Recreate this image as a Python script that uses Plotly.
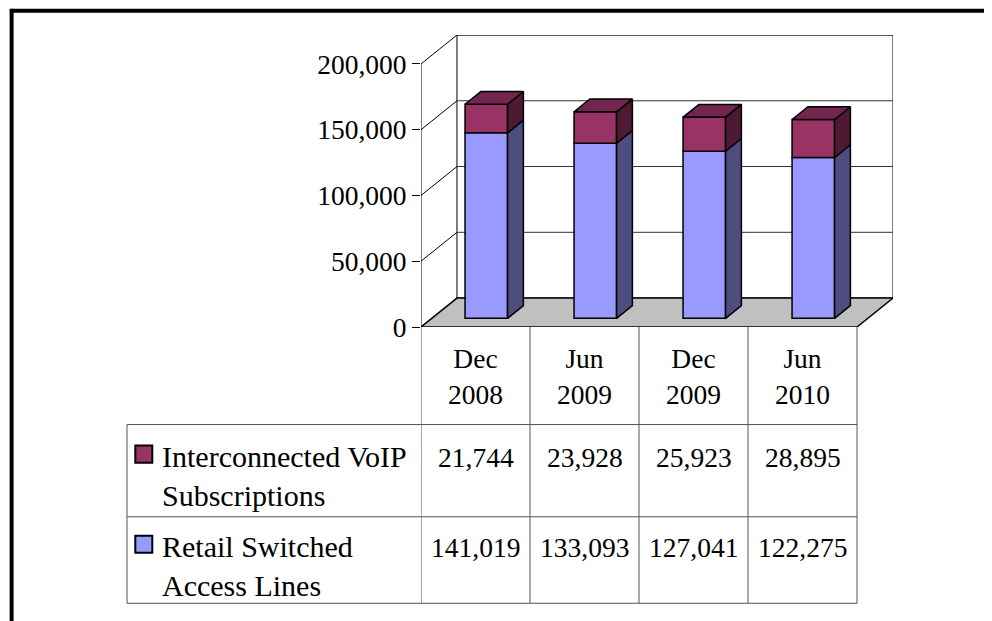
import plotly.graph_objects as go

# data
categories = ["Dec 2008", "Jun 2009", "Dec 2009", "Jun 2010"]
series_names = ["Interconnected VoIP<br>Subscriptions", "Retail Switched<br>Access Lines"]
voip = [21744, 23928, 25923, 28895]
retail = [141019, 133093, 127041, 122275]
y_ticks = [0, 50000, 100000, 150000, 200000]

FONT = "Liberation Serif"
FS = 27.5
FS_LABEL = 30

# pseudo-3d geometry (data units)
DX = 0.33      # depth offset along x (category units)
DY = 22000     # depth offset along y (value units)
F_FRONT = 0.3  # bar front face depth fraction
F_DEPTH = 0.44 # bar depth fraction
BAR_W = 0.39
Y_MAX = 200000

# page offset of the plot div (body margin)
OFF = 8

# plot area in pixels (page coordinates)
W, H = 992, 621
PL, PR, PB = 420.7, 892.7, 326.7
PT = PB - (Y_MAX + DY) * 262.4 / Y_MAX


def px_x(x):
    return (x - PL) / (PR - PL)


def px_y(y):
    return (PB - y) / (PB - PT)


def poly(pts):
    return "M " + " L ".join(f"{x},{y}" for x, y in pts) + " Z"


x0, x1 = -0.5, len(categories) - 0.5
shapes = []

# back wall, floor, side wall edges
shapes.append(dict(type="path", xref="x", yref="y", layer="below",
                   path=poly([(x0 + DX, DY), (x1 + DX, DY), (x1 + DX, Y_MAX + DY), (x0 + DX, Y_MAX + DY)]),
                   fillcolor="white", line=dict(color="black", width=1)))
shapes.append(dict(type="path", xref="x", yref="y", layer="below",
                   path=poly([(x0, 0), (x0 + DX, DY), (x1 + DX, DY), (x1, 0)]),
                   fillcolor="#C0C0C0", line=dict(color="black", width=1.5)))
for v in y_ticks[1:]:
    shapes.append(dict(type="line", xref="x", yref="y", layer="below",
                       x0=x0, y0=v, x1=x0 + DX, y1=v + DY, line=dict(color="black", width=1)))
    shapes.append(dict(type="line", xref="x", yref="y", layer="below",
                       x0=x0 + DX, y0=v + DY, x1=x1 + DX, y1=v + DY, line=dict(color="#333333", width=1)))
# front value axis line
shapes.append(dict(type="line", xref="x", yref="y", x0=x0, y0=0, x1=x0, y1=Y_MAX,
                   line=dict(color="black", width=1)))

# data table grid
T_HEAD, T_ROW1, T_ROW2, T_BOT = PB, 424, 516, 602.3
T_LEFT = 126.7
GRID = dict(color="#555555", width=1)
for k in range(len(categories) + 1):
    shapes.append(dict(type="line", xref="x", yref="paper", x0=x0 + k, x1=x0 + k,
                       y0=px_y(T_HEAD), y1=px_y(T_BOT), line=GRID))
for yy in [T_ROW1, T_ROW2, T_BOT]:
    shapes.append(dict(type="line", xref="paper", yref="paper", x0=px_x(T_LEFT), x1=px_x(PL + 436),
                       y0=px_y(yy), y1=px_y(yy), line=GRID))
shapes.append(dict(type="line", xref="paper", yref="paper", x0=px_x(T_LEFT), x1=px_x(T_LEFT),
                   y0=px_y(T_ROW1), y1=px_y(T_BOT), line=GRID))

# outer frame
shapes.append(dict(type="line", xref="paper", yref="paper", x0=px_x(11.3), x1=px_x(1010),
                   y0=px_y(11.3), y1=px_y(11.3), line=dict(color="black", width=4)))
shapes.append(dict(type="line", xref="paper", yref="paper", x0=px_x(11.3), x1=px_x(11.3),
                   y0=px_y(9.3), y1=px_y(640), line=dict(color="black", width=4)))

fig = go.Figure()

front_cols = ["#9999FF", "#993366"]
side_cols = ["#4D4D80", "#4D1A33"]
top_cols = ["#6E6EB8", "#73264D"]

xs = [i + F_FRONT * DX for i in range(len(categories))]
base0 = F_FRONT * DY
bdx, bdy = F_DEPTH * DX, F_DEPTH * DY

# side and top faces
for i, xc in enumerate(xs):
    xl, xr = xc - BAR_W / 2, xc + BAR_W / 2
    segs = [(base0, base0 + retail[i]), (base0 + retail[i], base0 + retail[i] + voip[i])]
    for s, (ya, yb) in enumerate(segs):
        pts = [(xr, ya), (xr + bdx, ya + bdy), (xr + bdx, yb + bdy), (xr, yb), (xr, ya)]
        fig.add_trace(go.Scatter(x=[p[0] for p in pts], y=[p[1] for p in pts], mode="lines",
                                 fill="toself", fillcolor=side_cols[s],
                                 line=dict(color="black", width=1.5), hoverinfo="skip", showlegend=False))
    yb = segs[1][1]
    pts = [(xl, yb), (xl + bdx, yb + bdy), (xr + bdx, yb + bdy), (xr, yb), (xl, yb)]
    fig.add_trace(go.Scatter(x=[p[0] for p in pts], y=[p[1] for p in pts], mode="lines",
                             fill="toself", fillcolor=top_cols[1],
                             line=dict(color="black", width=1.5), hoverinfo="skip", showlegend=False))

# front faces
fig.add_trace(go.Bar(x=xs, y=retail, base=[base0] * len(xs), width=BAR_W,
                     marker=dict(color=front_cols[0], line=dict(color="black", width=1.5)),
                     showlegend=False))
fig.add_trace(go.Bar(x=xs, y=voip, base=[base0 + r for r in retail], width=BAR_W,
                     marker=dict(color=front_cols[1], line=dict(color="black", width=1.5)),
                     showlegend=False))

# table text
annotations = []
for i, c in enumerate(categories):
    annotations.append(dict(x=i, xref="x", y=px_y(376), yref="paper", text=c.replace(" ", "<br>"),
                            showarrow=False, xanchor="center", yanchor="middle"))
row_tops = [437, 527]
row_vals = [voip, retail]
for r in range(2):
    annotations.append(dict(x=px_x(160), xref="paper", y=px_y(row_tops[r]), yref="paper",
                            text=series_names[r], showarrow=False, xanchor="left", yanchor="top",
                            align="left", font=dict(size=FS_LABEL)))
    for i, v in enumerate(row_vals[r]):
        annotations.append(dict(x=i, xref="x", y=px_y(row_tops[r] + 2), yref="paper", text=f"{v:,}",
                                showarrow=False, xanchor="center", yanchor="top"))
    ky = row_tops[r] + 8
    shapes.append(dict(type="rect", xref="paper", yref="paper", x0=px_x(135), x1=px_x(152),
                       y0=px_y(ky), y1=px_y(ky + 17), fillcolor=front_cols[1 - r],
                       line=dict(color="black", width=2)))

fig.update_layout(
    width=W, height=H,
    margin=dict(l=PL - OFF, r=W - PR + OFF, t=PT - OFF, b=H - PB + OFF, pad=0),
    paper_bgcolor="white", plot_bgcolor="rgba(0,0,0,0)",
    barmode="overlay",
    font=dict(family=FONT, size=FS, color="black"),
    xaxis=dict(range=[x0, x1 + DX], visible=False, fixedrange=True),
    yaxis=dict(range=[0, Y_MAX + DY], tickvals=y_ticks, ticktext=[f"{v:,}" for v in y_ticks],
               ticks="outside", ticklen=8, tickcolor="black", tickwidth=1,
               showgrid=False, zeroline=False, showline=False, fixedrange=True,
               tickfont=dict(family=FONT, size=FS, color="black")),
    shapes=shapes,
    annotations=annotations,
    showlegend=False,
)

fig.write_html("out.html")
